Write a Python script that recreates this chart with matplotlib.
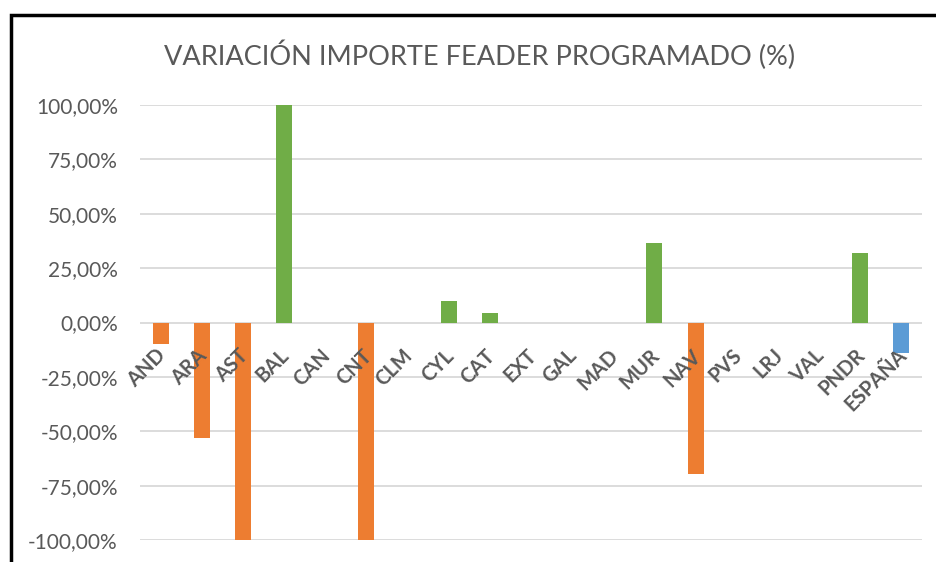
import numpy as np
import matplotlib.pyplot as plt
from matplotlib.patches import Rectangle
from matplotlib.ticker import FuncFormatter
from matplotlib.transforms import offset_copy

regions = ['AND', 'ARA', 'AST', 'BAL', 'CAN', 'CNT', 'CLM', 'CYL', 'CAT', 'EXT',
           'GAL', 'MAD', 'MUR', 'NAV', 'PVS', 'LRJ', 'VAL', 'PNDR', 'ESPAÑA']
variation = [-9.7, -53.0, -100.0, 100.0, 0.0, -100.0, 0.0, 10.0, 4.2, 0.0,
             0.0, 0.0, 36.4, -69.5, 0.0, 0.0, 0.0, 31.8, -13.8]
y_ticks = [-100, -75, -50, -25, 0, 25, 50, 75, 100]


def bar_color(name, v):
    if name == 'ESPAÑA':
        return '#5B9BD5'
    return '#70AD47' if v > 0 else '#ED7D31'


plt.rcParams['font.family'] = ['Lato', 'DejaVu Sans']

fig = plt.figure(figsize=(9.36, 5.62), dpi=100)
ax = fig.add_axes([0.1496, 0.0391, 0.8354, 0.7741])

x = np.arange(len(regions))
colors = [bar_color(n, v) for n, v in zip(regions, variation)]
ax.bar(x, variation, width=0.39, color=colors, zorder=3)

ax.set_xlim(-0.5, len(regions) - 0.5)
ax.set_ylim(-100, 100)
ax.set_yticks(y_ticks)
ax.yaxis.set_major_formatter(FuncFormatter(lambda v, p: f'{v:.2f}%'.replace('.', ',')))
ax.grid(axis='y', color='#D9D9D9', linewidth=1.3, zorder=0)
ax.tick_params(axis='y', length=0, labelsize=15, labelcolor='#595959', pad=16)
ax.set_xticks([])
for s in ax.spines.values():
    s.set_visible(False)

# category labels just under the zero line
trans = offset_copy(ax.transData, fig=fig, x=2, y=-30, units='dots')
for i, name in enumerate(regions):
    ax.text(i, 0, name, transform=trans, rotation=45, ha='right', va='center',
            rotation_mode='anchor', fontsize=14.5, fontweight='bold', color='#595959')

fig.text(0.512, 0.902, 'VARIACIÓN IMPORTE FEADER PROGRAMADO (%)', ha='center', va='center',
         fontsize=19.5, color='#595959')

# chart frame
fig.patches.append(Rectangle((11 / 936, -0.1), 2, 1.1 - 15 / 562, transform=fig.transFigure,
                             fill=False, edgecolor='black', linewidth=2.5))

fig.savefig('out.png', dpi=100)
